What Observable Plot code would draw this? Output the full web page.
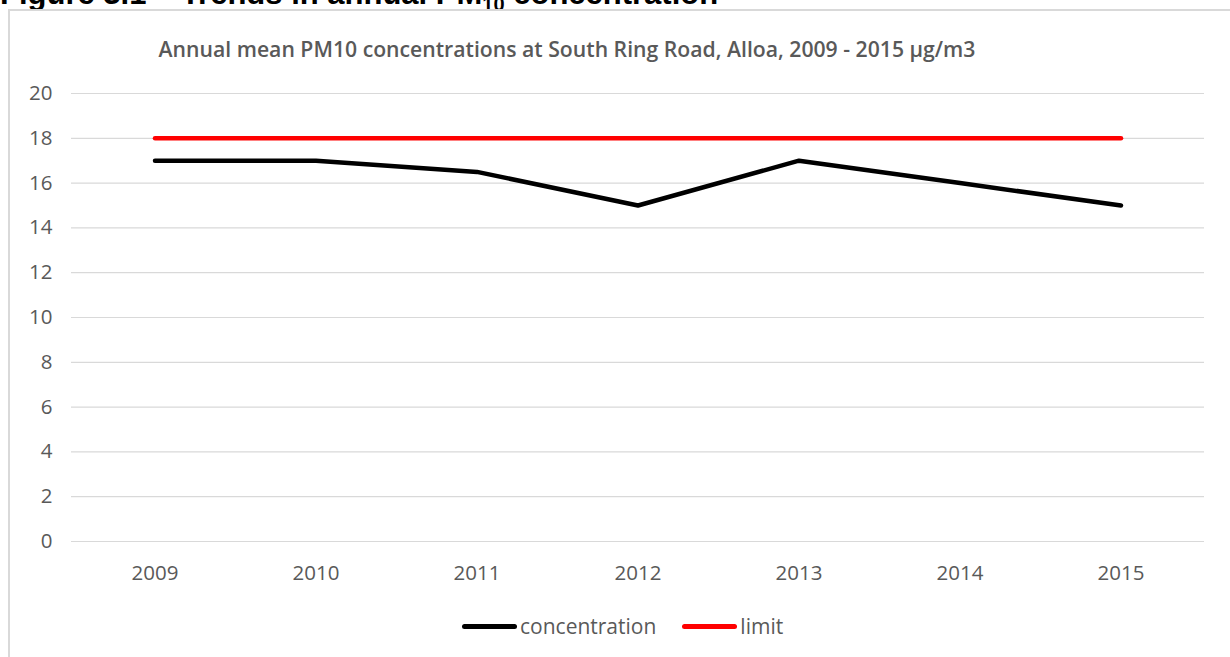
<!DOCTYPE html>
<html>
<head>
<meta charset="utf-8">
<script src="https://cdn.jsdelivr.net/npm/d3@7"></script>
<script src="https://cdn.jsdelivr.net/npm/@observablehq/plot@0.6"></script>
<style>
  html, body { margin: 0; padding: 0; background: #fff; width: 1230px; height: 657px; overflow: hidden; position: relative; }
  #heading { position: absolute; left: 0; top: -24px; font-family: "Liberation Sans", Arial, sans-serif; font-weight: bold; font-size: 31px; color: #000; white-space: nowrap; }
  #heading sub { font-size: 20px; }
  #frame { position: absolute; left: 8px; top: 9px; width: 1240px; height: 700px; border: 2px solid #d9d9d9; box-sizing: border-box; }
  #title { position: absolute; left: 0; width: 1134px; top: 34px; text-align: center; font-family: "Open Sans", sans-serif; font-weight: 600; font-size: 21.2px; color: #595959; white-space: nowrap; }
  #chart { position: absolute; left: 0; top: 0; }
  #legend { position: absolute; top: 612px; left: 462px; font-family: "Open Sans", sans-serif; font-size: 21px; color: #595959; display: flex; align-items: center; white-space: nowrap; }
  .sw { display: inline-block; width: 55px; height: 5px; border-radius: 3px; margin-right: 3px; }
</style>
</head>
<body>
<div id="heading">Figure 3.1 – Trends in annual PM<sub>10</sub> concentration</div>
<div id="frame"></div>
<div id="chart"></div>
<div id="title">Annual mean PM10 concentrations at South Ring Road, Alloa, 2009 - 2015 µg/m3</div>
<div id="legend"></div>
<script>
const years = ["2009", "2010", "2011", "2012", "2013", "2014", "2015"];
const concentration = [17, 17, 16.5, 15, 17, 16, 15];
const limit = [18, 18, 18, 18, 18, 18, 18];
const yTicks = [0, 2, 4, 6, 8, 10, 12, 14, 16, 18, 20];
const seriesNames = ["concentration", "limit"];
const seriesColors = ["#000000", "#ff0000"];

const concData = years.map((y, i) => ({year: y, value: concentration[i]}));
const limitData = years.map((y, i) => ({year: y, value: limit[i]}));

const plot = Plot.plot({
  width: 1230,
  height: 580,
  marginLeft: 71,
  marginRight: 26,
  marginTop: 93,
  marginBottom: 39,
  style: {fontFamily: "Open Sans, sans-serif", fontSize: "20.5px", color: "#595959", background: "transparent"},
  x: {type: "band", domain: years, padding: 0, label: null},
  y: {domain: [0, 20], label: null},
  marks: [
    Plot.ruleY(yTicks, {stroke: "#d9d9d9", strokeWidth: 1.2}),
    Plot.axisX({tickSize: 0, tickPadding: 24, fill: "#595959", fontSize: 20.5}),
    Plot.axisY({ticks: yTicks, tickSize: 0, tickPadding: 19, fill: "#595959", fontSize: 20.5, tickFormat: d => String(d)}),
    Plot.line(limitData, {x: "year", y: "value", stroke: seriesColors[1], strokeWidth: 4.5, strokeLinecap: "round", strokeLinejoin: "round"}),
    Plot.line(concData, {x: "year", y: "value", stroke: seriesColors[0], strokeWidth: 4.5, strokeLinecap: "round", strokeLinejoin: "round"})
  ]
});
document.getElementById("chart").appendChild(plot);

const legend = document.getElementById("legend");
seriesNames.forEach((name, i) => {
  const item = document.createElement("span");
  item.style.display = "inline-flex";
  item.style.alignItems = "center";
  item.style.marginRight = i === 0 ? "26px" : "0";
  const sw = document.createElement("span");
  sw.className = "sw";
  sw.style.background = seriesColors[i];
  item.appendChild(sw);
  item.appendChild(document.createTextNode(name));
  legend.appendChild(item);
});
</script>
</body>
</html>
